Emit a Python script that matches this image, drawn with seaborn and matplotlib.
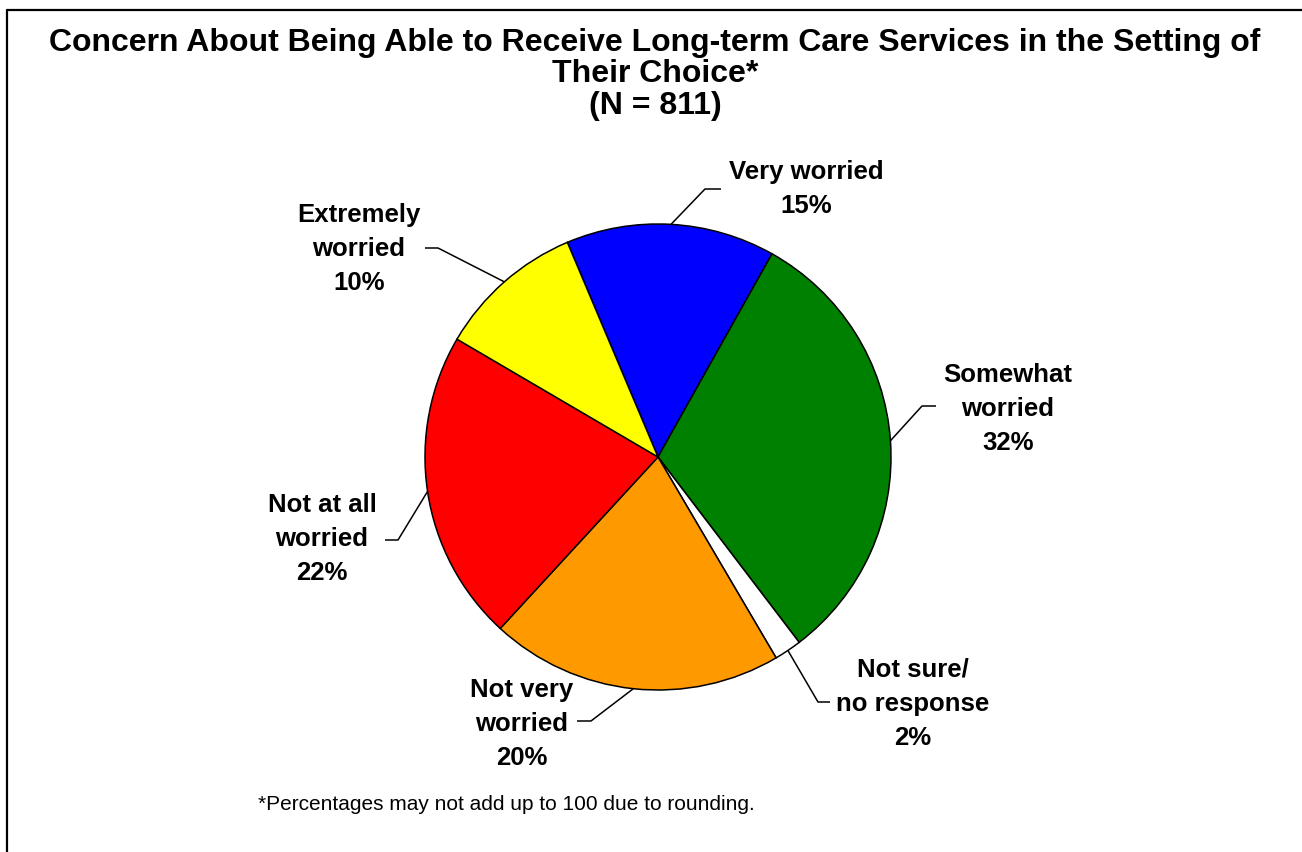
import numpy as np
import matplotlib
matplotlib.use("Agg")
import matplotlib.pyplot as plt
import seaborn as sns
from matplotlib.lines import Line2D

sns.set_theme(style="white")
plt.rcParams['font.family'] = ['Liberation Sans', 'DejaVu Sans']

# Data (clockwise from the top-left edge of "Very worried")
categories = ["Very worried", "Somewhat\nworried", "Not sure/\nno response",
              "Not very\nworried", "Not at all\nworried", "Extremely\nworried"]
values = [14.5, 31.5, 1.9, 20.3, 21.6, 10.2]
pct_labels = ["15%", "32%", "2%", "20%", "22%", "10%"]
colors = ["#0000FF", "#008000", "#FFFFFF", "#FF9900", "#FF0000", "#FFFF00"]

W, H = 1302, 853
fig = plt.figure(figsize=(W / 100, H / 100), dpi=100)
fig.patch.set_facecolor("white")
ax = fig.add_axes([0, 0, 1, 1])

cx, cy, R = 658, H - 458, 233
wedges, _ = ax.pie(values, colors=colors, startangle=112.9, counterclock=False,
                   center=(cx, cy), radius=R, frame=True,
                   wedgeprops=dict(edgecolor="black", linewidth=1.1))
ax.set_xlim(0, W)
ax.set_ylim(0, H)
ax.set_aspect("equal")
ax.axis("off")

# label layout: (text center x, first-line y in px, elbow point, end point)
layout = [
    (806, 172, (705, 190), (721, 190)),
    (1008, 375, (922, 407), (936, 407)),
    (913, 670, (818, 703), (830, 703)),
    (522, 690, (591, 722), (577, 722)),
    (322, 505, (398, 541), (385, 541)),
    (359, 215, (438, 249), (425, 249)),
]

for w, cat, pct, (tx, ty, elbow, end) in zip(wedges, categories, pct_labels, layout):
    mid = np.deg2rad((w.theta1 + w.theta2) / 2)
    ax_x = cx + R * np.cos(mid)
    ax_y = cy + R * np.sin(mid)
    ax.plot([ax_x, elbow[0], end[0]], [ax_y, H - elbow[1], H - end[1]],
            color="black", lw=1.1, solid_capstyle="butt")
    lines = (cat + "\n" + pct).split("\n")
    for i, ln in enumerate(lines):
        ax.text(tx, H - (ty + i * 34), ln, ha="center", va="center",
                fontsize=18.5, fontweight="bold", color="black")

# Title
title_lines = ["Concern About Being Able to Receive Long-term Care Services in the Setting of",
               "Their Choice*", "(N = 811)"]
for i, t in enumerate(title_lines):
    fig.text(655 / W, 1 - (43 + i * 31.5) / H, t, ha="center", va="center",
             fontsize=23, fontweight="bold", color="black")

# Footnote
fig.text(258 / W, 1 - 805 / H, "*Percentages may not add up to 100 due to rounding.",
         ha="left", va="center", fontsize=15, color="black")

# Border (top and left edges visible)
fig.add_artist(Line2D([7 / W, 7 / W], [0, 1 - 11 / H], color="black", lw=1.6,
                      transform=fig.transFigure))
fig.add_artist(Line2D([7 / W, 1], [1 - 11 / H, 1 - 11 / H], color="black", lw=1.6,
                      transform=fig.transFigure))

fig.savefig("out.png", dpi=100, facecolor="white")
